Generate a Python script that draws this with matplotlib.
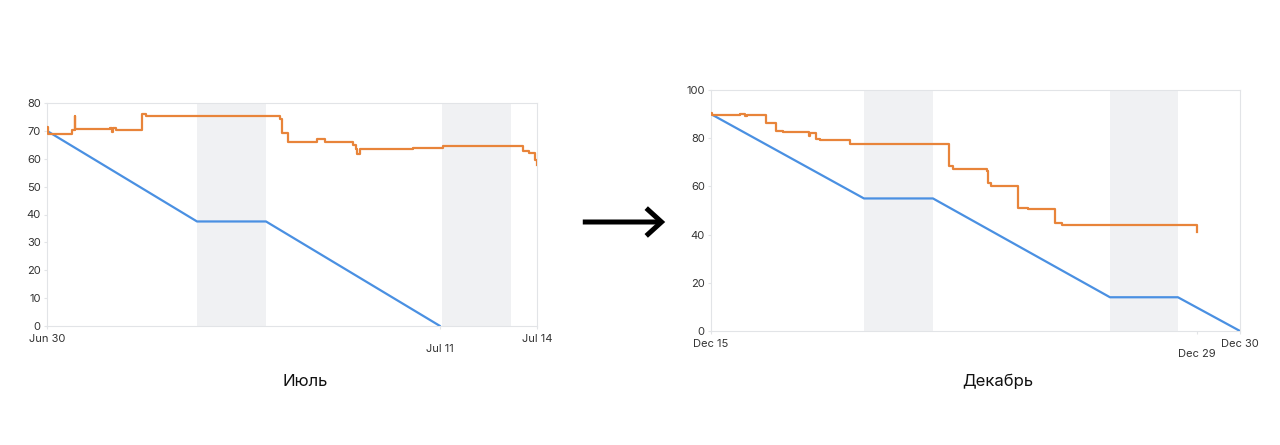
import matplotlib
matplotlib.use("Agg")
import matplotlib.pyplot as plt
from matplotlib.patches import FancyArrowPatch

plt.rcParams['font.family'] = ['Inter', 'DejaVu Sans']

# Июль: x в днях от начала спринта
jul_ideal_x = [0, 4.286, 6.257, 11.229]
jul_ideal_y = [70, 37.5, 37.5, 0]
jul_real_x = [0.00, 0.04, 0.71, 0.79, 0.81, 1.80, 1.86, 1.89, 1.97, 2.71, 2.83,
              6.67, 6.71, 6.89, 7.71, 7.94, 8.73, 8.83, 8.87, 8.94, 10.47,
              11.31, 13.61, 13.78, 13.94, 14.00]
jul_real_y = [71.5, 69.0, 70.3, 75.2, 70.5, 70.9, 69.7, 70.9, 70.4, 76.2, 75.3,
              74.1, 69.1, 66.0, 67.2, 66.0, 64.9, 63.4, 61.6, 63.5, 64.0,
              64.7, 62.9, 62.0, 59.5, 57.8]
jul_weekends = [(4.286, 6.257), (11.286, 13.257)]
jul_ticks = [0, 14]
jul_tick_labels = ['Jun 30', 'Jul 14']
jul_low_tick = [11.229]
jul_low_label = ['Jul 11']

# Декабрь
dec_ideal_x = [0, 4.338, 6.294, 11.313, 13.24, 15.0]
dec_ideal_y = [90, 55, 55, 14, 14, 0]
dec_real_x = [0.00, 0.04, 0.82, 0.96, 1.02, 1.56, 1.84, 2.05, 2.78, 2.82, 2.98,
              3.09, 3.94, 6.75, 6.87, 7.71, 7.82, 7.86, 7.94, 8.71, 9.00, 9.75,
              9.96, 13.77]
dec_real_y = [90.5, 89.6, 90.2, 89.2, 89.5, 86.2, 83.0, 82.7, 80.8, 82.3, 79.5,
              79.1, 77.8, 68.3, 67.2, 67.2, 66.5, 61.3, 60.2, 51.2, 50.6, 44.7,
              44.1, 41.0]
dec_weekends = [(4.338, 6.294), (11.313, 13.24)]
dec_ticks = [0, 15]
dec_tick_labels = ['Dec 15', 'Dec 30']
dec_low_tick = [13.78]
dec_low_label = ['Dec 29']

ORANGE = '#e8843a'
BLUE = '#4a90e2'
SHADE = '#f0f1f3'
FRAME = '#e2e4e7'
TEXT = '#333333'


def draw_sprint(ax, ideal_x, ideal_y, real_x, real_y, weekends, xmax, ymax, ystep,
                ticks, tick_labels, low_tick, low_label):
    for a, b in weekends:
        ax.axvspan(a, b, color=SHADE, lw=0, zorder=0)
    ax.plot(ideal_x, ideal_y, color=BLUE, lw=1.6, zorder=3, solid_capstyle='round')
    ax.step(real_x, real_y, where='post', color=ORANGE, lw=1.6, zorder=4)
    ax.set_xlim(0, xmax)
    ax.set_ylim(0, ymax)
    ax.set_yticks(range(0, ymax + 1, ystep))
    ax.set_xticks(ticks)
    ax.set_xticklabels(tick_labels)
    ax.set_xticks(low_tick, minor=True)
    ax.set_xticklabels(low_label, minor=True)
    for s in ax.spines.values():
        s.set_color(FRAME)
        s.set_linewidth(0.8)
    ax.tick_params(axis='both', which='both', colors=FRAME, labelcolor=TEXT,
                   labelsize=8, length=2.5, width=0.8)
    ax.tick_params(axis='y', pad=2)
    ax.tick_params(axis='x', which='major', pad=3)
    ax.tick_params(axis='x', which='minor', pad=10.5)


fig = plt.figure(figsize=(12.8, 4.45), dpi=100)
W, H = 1280, 445

ax1 = fig.add_axes([47 / W, (H - 326) / H, 490 / W, 223 / H])
draw_sprint(ax1, jul_ideal_x, jul_ideal_y, jul_real_x, jul_real_y, jul_weekends,
            14, 80, 10, jul_ticks, jul_tick_labels, jul_low_tick, jul_low_label)

ax2 = fig.add_axes([711 / W, (H - 331) / H, 529 / W, 241 / H])
draw_sprint(ax2, dec_ideal_x, dec_ideal_y, dec_real_x, dec_real_y, dec_weekends,
            15, 100, 20, dec_ticks, dec_tick_labels, dec_low_tick, dec_low_label)

fig.text(305 / W, 1 - 381 / H, 'Июль', ha='center', va='center',
         fontsize=12, color='#111111')
fig.text(998 / W, 1 - 381 / H, 'Декабрь', ha='center', va='center',
         fontsize=12, color='#111111')

# стрелка между графиками
fig.add_artist(FancyArrowPatch(
    (580, H - 222), (668, H - 222), transform=None,
    arrowstyle='->,head_length=0.55,head_width=0.5', mutation_scale=20,
    lw=3.6, color='black', joinstyle='miter', capstyle='butt'))

fig.savefig('out.png', dpi=100, facecolor='white')
